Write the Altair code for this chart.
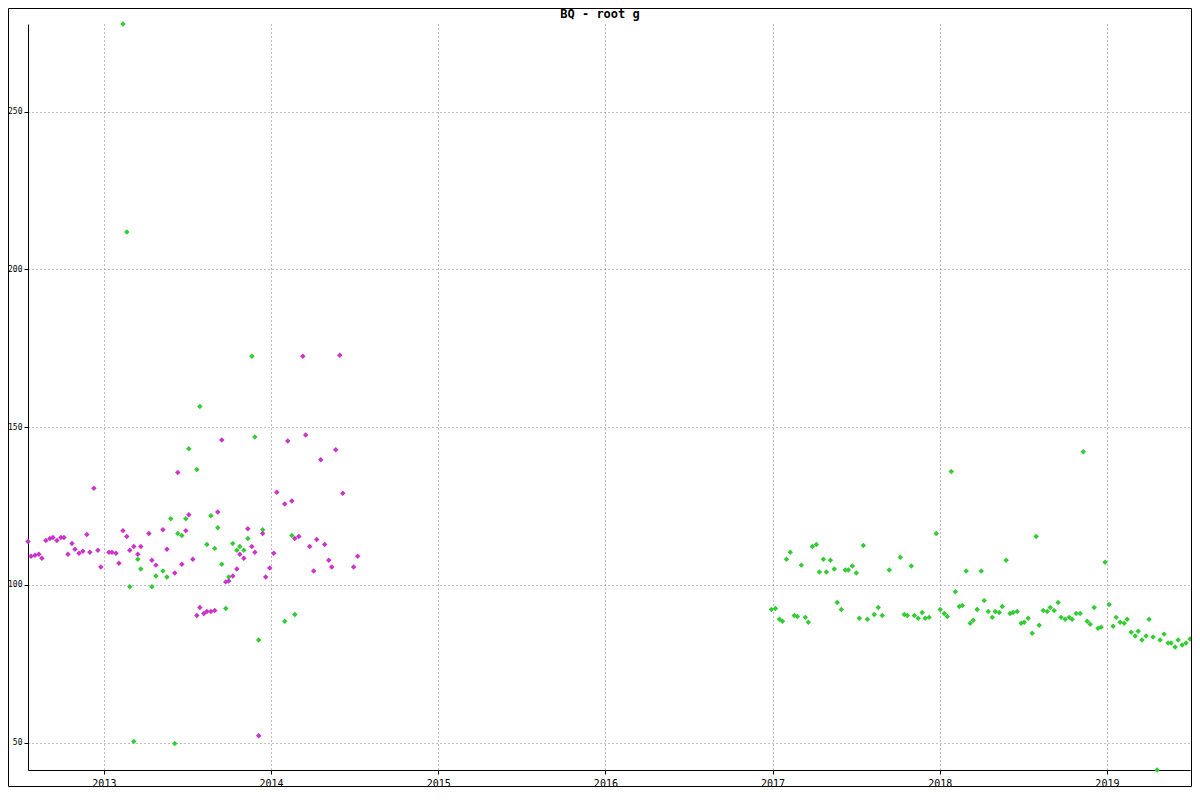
import altair as alt
import pandas as pd

# Magenta series (decimal year, value)
magenta_years = [
    2012.546, 2012.564, 2012.588, 2012.611, 2012.629, 2012.653, 2012.677, 2012.695,
    2012.719, 2012.743, 2012.761, 2012.785, 2012.809, 2012.827, 2012.851, 2012.874,
    2012.898, 2012.916, 2012.940, 2012.964, 2012.982, 2013.030, 2013.048, 2013.072,
    2013.090, 2013.114, 2013.137, 2013.155, 2013.179, 2013.203, 2013.221, 2013.269,
    2013.287, 2013.311, 2013.353, 2013.377, 2013.424, 2013.442, 2013.466, 2013.490,
    2013.508, 2013.532, 2013.556, 2013.574, 2013.598, 2013.616, 2013.640, 2013.663,
    2013.681, 2013.705, 2013.729, 2013.747, 2013.771, 2013.795, 2013.813, 2013.837,
    2013.861, 2013.885, 2013.903, 2013.926, 2013.950, 2013.968, 2013.992, 2014.016,
    2014.034, 2014.082, 2014.100, 2014.124, 2014.142, 2014.166, 2014.190, 2014.207,
    2014.231, 2014.255, 2014.273, 2014.297, 2014.321, 2014.345, 2014.363, 2014.387,
    2014.411, 2014.429, 2014.494, 2014.518,
]
magenta_values = [
    113.75, 109.06, 109.38, 109.69, 108.44, 114.06, 114.69, 115.00,
    114.06, 115.00, 115.00, 109.69, 113.13, 111.25, 110.00, 110.63,
    115.94, 110.31, 130.63, 110.94, 105.63, 110.31, 110.31, 110.00,
    106.88, 117.19, 115.31, 110.94, 112.19, 109.69, 112.19, 116.25,
    107.81, 106.25, 117.50, 111.25, 103.75, 135.63, 106.56, 117.19,
    122.19, 108.13, 90.31, 92.81, 90.94, 91.56, 91.56, 91.88,
    123.13, 145.94, 100.94, 101.25, 102.81, 105.00, 109.69, 108.44,
    117.81, 112.19, 110.31, 52.19, 116.25, 102.50, 105.31, 110.00,
    129.38, 125.63, 145.63, 126.56, 114.69, 115.31, 172.50, 147.50,
    112.19, 104.38, 114.38, 139.69, 112.81, 107.81, 105.63, 142.81,
    172.81, 129.06, 105.63, 109.06,
]

# Green series (decimal year, value)
green_years = [
    2013.114, 2013.137, 2013.155, 2013.179, 2013.203, 2013.221, 2013.287, 2013.311,
    2013.353, 2013.377, 2013.400, 2013.424, 2013.442, 2013.466, 2013.490, 2013.508,
    2013.556, 2013.574, 2013.616, 2013.640, 2013.663, 2013.681, 2013.705, 2013.729,
    2013.747, 2013.771, 2013.795, 2013.813, 2013.837, 2013.861, 2013.885, 2013.903,
    2013.926, 2013.950, 2014.082, 2014.124, 2014.142,
    2016.993, 2017.017, 2017.041, 2017.059, 2017.083, 2017.106, 2017.130, 2017.148,
    2017.172, 2017.196, 2017.214, 2017.238, 2017.262, 2017.280, 2017.304, 2017.322,
    2017.346, 2017.369, 2017.387, 2017.411, 2017.435, 2017.453, 2017.477, 2017.501,
    2017.519, 2017.543, 2017.567, 2017.608, 2017.632, 2017.656, 2017.698, 2017.764,
    2017.788, 2017.806, 2017.830, 2017.848, 2017.871, 2017.895, 2017.913, 2017.937,
    2017.979, 2018.003, 2018.027, 2018.045, 2018.069, 2018.093, 2018.117, 2018.135,
    2018.158, 2018.182, 2018.200, 2018.224, 2018.248, 2018.266, 2018.290, 2018.314,
    2018.332, 2018.356, 2018.374, 2018.397, 2018.421, 2018.439, 2018.463, 2018.487,
    2018.505, 2018.529, 2018.553, 2018.577, 2018.595, 2018.619, 2018.643, 2018.661,
    2018.684, 2018.708, 2018.726, 2018.750, 2018.774, 2018.792, 2018.816, 2018.840,
    2018.858, 2018.882, 2018.900, 2018.924, 2018.947, 2018.965, 2018.989, 2019.013,
    2019.037, 2019.055, 2019.079, 2019.103, 2019.121, 2019.145, 2019.169, 2019.187,
    2019.210, 2019.234, 2019.252, 2019.276, 2019.300, 2019.318, 2019.342, 2019.366,
    2019.384, 2019.408, 2019.426, 2019.450, 2019.473, 2019.497,
]
green_values = [
    277.81, 211.88, 99.38, 50.31, 108.13, 105.00, 99.38, 102.81,
    104.38, 102.50, 120.94, 49.69, 116.25, 115.63, 120.94, 143.13,
    136.56, 156.56, 112.81, 121.88, 111.56, 118.13, 106.56, 92.50,
    102.50, 113.13, 110.94, 112.19, 110.94, 114.69, 172.50, 146.88,
    82.50, 117.50, 88.44, 115.63, 90.63,
    92.19, 92.50, 89.06, 88.44, 108.13, 110.31, 90.31, 90.00,
    106.25, 89.69, 88.13, 112.19, 112.81, 104.06, 108.13, 104.06,
    107.81, 105.00, 94.38, 92.19, 104.69, 104.69, 105.94, 103.75,
    89.38, 112.50, 89.06, 90.63, 92.81, 90.31, 104.69, 108.75,
    90.63, 90.31, 105.94, 90.31, 89.38, 91.25, 89.38, 89.69,
    116.25, 92.19, 90.94, 90.00, 135.94, 97.81, 93.13, 93.44,
    104.38, 87.81, 88.75, 92.19, 104.38, 95.00, 91.56, 89.69,
    91.56, 91.25, 93.13, 107.81, 90.94, 91.25, 91.56, 87.81,
    88.13, 89.38, 84.69, 115.31, 87.19, 91.88, 91.56, 92.81,
    91.88, 94.38, 89.69, 89.06, 89.69, 89.06, 90.94, 90.94,
    142.19, 88.44, 87.50, 92.81, 86.25, 86.56, 107.19, 93.75,
    86.88, 89.69, 88.13, 87.81, 89.06, 85.00, 83.75, 85.31,
    82.50, 83.75, 89.06, 83.44, 41.30, 82.50, 84.38, 81.56,
    81.56, 80.31, 82.50, 80.94, 81.56, 82.81,
]

title_text = "BQ - root g"
series_names = ["series 1", "series 2"]
series_colors = ["#cc33cc", "#33cc33"]
year_ticks = [2013, 2014, 2015, 2016, 2017, 2018, 2019]
value_ticks = [50, 100, 150, 200, 250]

df = pd.concat([
    pd.DataFrame({"year": green_years, "value": green_values, "series": series_names[1]}),
    pd.DataFrame({"year": magenta_years, "value": magenta_values, "series": series_names[0]}),
], ignore_index=True)

W, H = 1162, 746
FONT = "DejaVu Sans Mono"

x_dom = [min(magenta_years + green_years), max(magenta_years + green_years)]
y_dom = [min(magenta_values + green_values), max(magenta_values + green_values)]

axis_common = dict(
    title=None, format="d", grid=True, gridColor="#808080", gridDash=[1, 3],
    gridWidth=1, gridOpacity=1, domainColor="black", domainWidth=1,
    tickColor="black", tickWidth=1, labelColor="black", labelFont=FONT,
    tickSize=4,
)

points = alt.Chart(df).mark_point(
    shape="diamond", filled=True, size=30, opacity=1, strokeWidth=0
).encode(
    x=alt.X("year:Q", scale=alt.Scale(domain=x_dom, nice=False, zero=False),
            axis=alt.Axis(values=year_ticks, labelFontSize=10, labelPadding=4,
                          **axis_common)),
    y=alt.Y("value:Q", scale=alt.Scale(domain=y_dom, nice=False, zero=False),
            axis=alt.Axis(values=value_ticks, labelFontSize=8, labelPadding=2,
                          **axis_common)),
    color=alt.Color("series:N", scale=alt.Scale(domain=series_names, range=series_colors),
                    legend=None),
)

title_mark = alt.Chart(pd.DataFrame({"t": [title_text]})).mark_text(
    font=FONT, fontSize=12, fontWeight="bold", color="black",
    align="center", baseline="alphabetic",
).encode(
    text="t:N",
    x=alt.value(W / 2 - 9),
    y=alt.value(-6),
)

border = alt.Chart(pd.DataFrame({"k": [0]})).mark_rect(
    fill="transparent", stroke="black", strokeWidth=1
).encode(
    x=alt.value(-19.5), x2=alt.value(W + 1.5),
    y=alt.value(-15.5), y2=alt.value(H + 16.5),
)

chart = alt.layer(points, title_mark, border).properties(
    width=W, height=H,
    autosize=alt.AutoSizeParams(type="none"),
    padding={"left": 20, "top": 16, "right": 2, "bottom": 17},
).configure(
    background="white"
).configure_view(
    stroke="transparent", strokeWidth=0
)

chart.save("out.html", embed_options={"renderer": "svg", "actions": False})
